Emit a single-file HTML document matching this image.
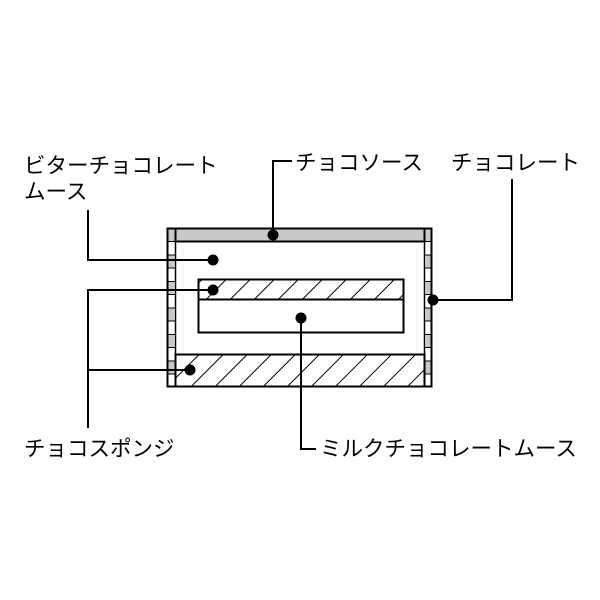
<!DOCTYPE html>
<html><head><meta charset="utf-8"><style>
html,body{margin:0;padding:0;background:#fff;}
svg{display:block;}
text{font-family:"Liberation Sans","Noto Sans CJK JP",sans-serif;font-size:21.5px;fill:#000;}
</style></head><body>
<svg width="600" height="600" viewBox="0 0 600 600" xmlns="http://www.w3.org/2000/svg">
<defs>
<pattern id="h" patternUnits="userSpaceOnUse" width="17" height="17" patternTransform="rotate(45)">
<line x1="0" y1="0" x2="0" y2="17" stroke="#000" stroke-width="2"/>
</pattern>
</defs>
<rect x="0" y="0" width="600" height="600" fill="#fff"/>
<g stroke="#000" stroke-width="1.5">
<rect x="167.5" y="228.5" width="8" height="158" fill="#fff"/>
<rect x="424.5" y="228.5" width="7" height="158" fill="#fff"/>
</g>
<g fill="#c8c8c8" stroke="#000" stroke-width="1">
<rect x="167.5" y="228.5" width="8" height="13"/>
<rect x="167.5" y="255" width="8" height="13"/>
<rect x="167.5" y="281.5" width="8" height="13"/>
<rect x="167.5" y="308" width="8" height="13"/>
<rect x="167.5" y="334.5" width="8" height="13"/>
<rect x="167.5" y="361" width="8" height="13"/>
<rect x="424.5" y="228.5" width="7" height="13"/>
<rect x="424.5" y="255" width="7" height="13"/>
<rect x="424.5" y="281.5" width="7" height="13"/>
<rect x="424.5" y="308" width="7" height="13"/>
<rect x="424.5" y="334.5" width="7" height="13"/>
<rect x="424.5" y="361" width="7" height="13"/>
</g>
<rect x="167.5" y="228.5" width="264" height="158" fill="none" stroke="#000" stroke-width="2"/>
<rect x="175.5" y="228.5" width="249" height="13" fill="#c8c8c8" stroke="#000" stroke-width="2"/>
<rect x="175.5" y="354.5" width="249" height="32" fill="url(#h)" stroke="#000" stroke-width="2"/>
<rect x="198.5" y="279.5" width="205" height="20" fill="url(#h)" stroke="#000" stroke-width="2"/>
<rect x="198.5" y="299.5" width="205" height="33" fill="#fff" stroke="#000" stroke-width="2"/>
<g stroke="#000" stroke-width="2" fill="none">
<polyline points="292,161 273,161 273,235"/>
<polyline points="512,179 512,300 433,300"/>
<polyline points="88,210 88,260 213,260"/>
<polyline points="88,428 88,290 213,290"/>
<line x1="88" y1="370" x2="190" y2="370"/>
<polyline points="301,318 301,449 316,449"/>
</g>
<g fill="#000">
<circle cx="273" cy="235" r="5.5"/>
<circle cx="433" cy="300" r="5.5"/>
<circle cx="213" cy="260" r="5.5"/>
<circle cx="213" cy="290" r="5.5"/>
<circle cx="190" cy="370" r="5.5"/>
<circle cx="301" cy="318" r="5.5"/>
</g>
<text x="24" y="173">ビターチョコレート</text>
<text x="24" y="199">ムース</text>
<text x="295" y="170">チョコソース</text>
<text x="451" y="170">チョコレート</text>
<text x="24" y="456">チョコスポンジ</text>
<text x="320" y="456">ミルクチョコレートムース</text>
</svg>
</body></html>
